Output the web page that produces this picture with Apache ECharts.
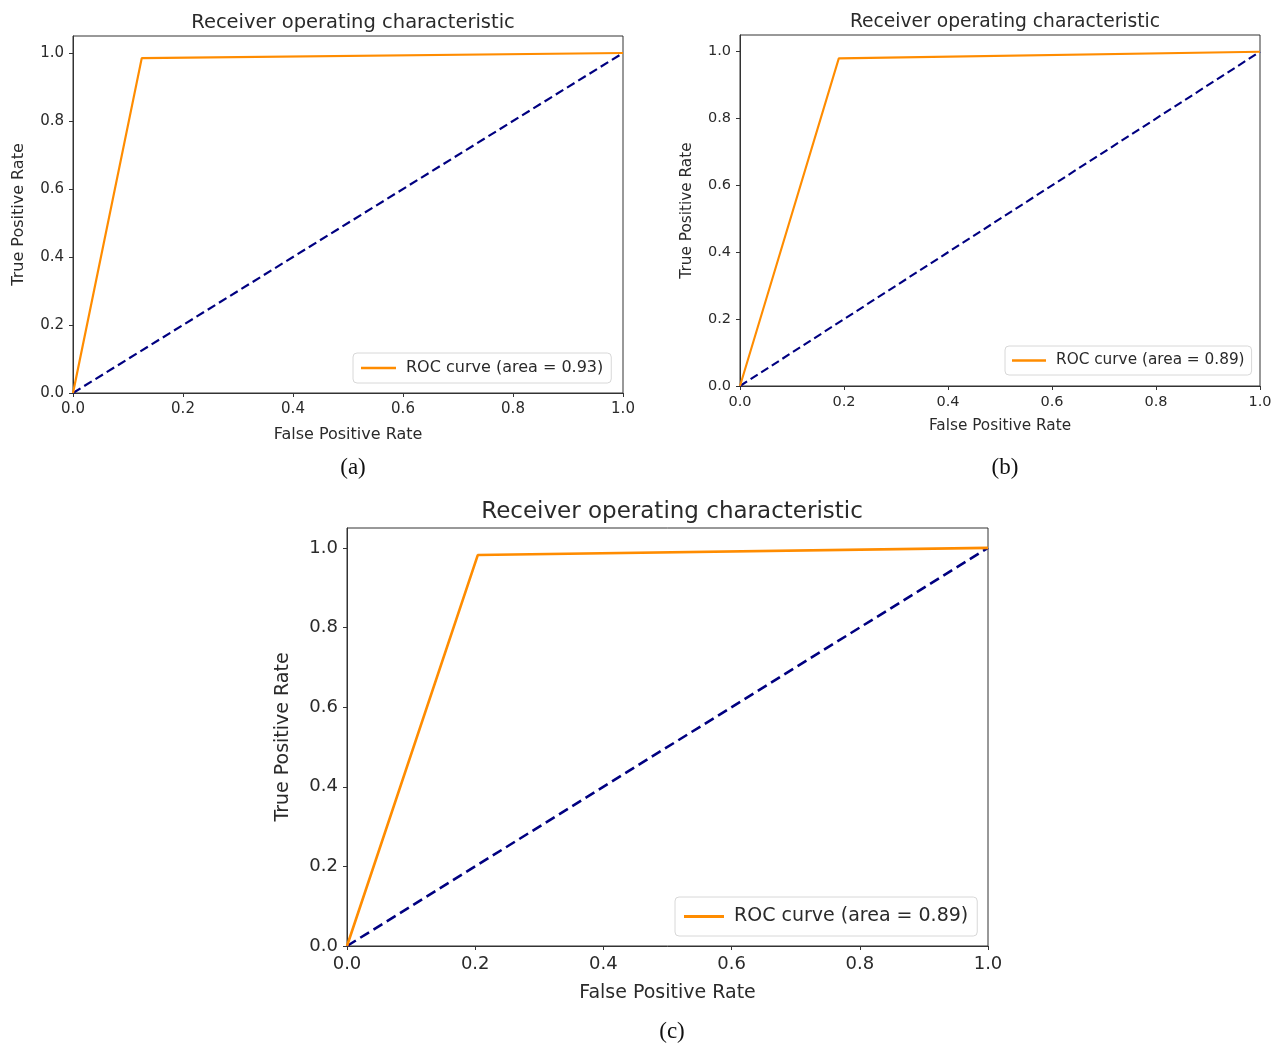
<!DOCTYPE html>
<html>
<head>
<meta charset="utf-8">
<script src="https://cdn.jsdelivr.net/npm/echarts@6/dist/echarts.min.js"></script>
<style>
html,body{margin:0;padding:0;background:#fff;}
#chart{width:1278px;height:1043px;}
</style>
</head>
<body>
<div id="chart"></div>
<script>
// ---- data ----
const fprA = [0, 0.125, 1];
const tprA = [0, 0.985, 1];
const fprB = [0, 0.19, 1];
const tprB = [0, 0.98, 1];
const fprC = [0, 0.204, 1];
const tprC = [0, 0.982, 1];
const chanceX = [0, 1];
const chanceY = [0, 1];
const nameA = 'ROC curve (area = 0.93)';
const nameB = 'ROC curve (area = 0.89)';
const nameC = 'ROC curve (area = 0.89)';
const tickValues = [0, 0.2, 0.4, 0.6, 0.8, 1.0];
const titleText = 'Receiver operating characteristic';
const xName = 'False Positive Rate';
const yName = 'True Positive Rate';
const captions = ['(a)', '(b)', '(c)'];

const zip = (xs, ys) => xs.map((x, i) => [x, ys[i]]);

const FONT = 'DejaVu Sans';
const TXT = '#2a2a2a';

const panels = [
  {grid: {left: 73, top: 36, width: 550, height: 357}, tk: 15, fs: 16, tfs: 19.5, titleY: 8, capY: 451, cap: captions[0], cx: 348,
   xGap: 34, yGap: 46, lw: 2.2, iw: 35, pad: [7, 8], legend: {left: 353, top: 353}, fx: fprA, ty: tprA, name: nameA},
  {grid: {left: 740, top: 35, width: 520, height: 351}, tk: 14.5, fs: 15.3, tfs: 18.7, titleY: 8, capY: 451, cap: captions[1], cx: 1000,
   xGap: 33, yGap: 45, lw: 2.1, iw: 34, pad: [7, 7], legend: {left: 1005, top: 346}, fx: fprB, ty: tprB, name: nameB},
  {grid: {left: 347, top: 528, width: 641, height: 418}, tk: 18, fs: 19, tfs: 23, titleY: 496, capY: 1015, cap: captions[2], cx: 667,
   xGap: 38, yGap: 54, lw: 2.6, iw: 40, pad: [10, 9], legend: {left: 675, top: 897}, fx: fprC, ty: tprC, name: nameC}
];

const option = {
  animation: false,
  backgroundColor: '#fff',
  title: [],
  grid: [],
  xAxis: [],
  yAxis: [],
  legend: [],
  series: []
};

panels.forEach((p, i) => {
  option.grid.push(Object.assign({show: true, borderColor: '#333', borderWidth: 1, backgroundColor: '#fff', containLabel: false}, p.grid));
  option.title.push({
    text: titleText, left: p.cx, top: p.titleY, textAlign: 'center',
    textStyle: {fontFamily: FONT, fontSize: p.tfs, fontWeight: 'normal', color: TXT}
  });
  option.title.push({
    text: p.cap, left: p.cx, top: p.capY, textAlign: 'center',
    textStyle: {fontFamily: 'Liberation Serif', fontSize: 23, fontWeight: 'normal', color: '#111'}
  });
  const axisCommon = {
    gridIndex: i, type: 'value', min: 0,
    nameLocation: 'middle',
    nameTextStyle: {fontFamily: FONT, fontSize: p.fs, color: TXT},
    axisLine: {show: true, onZero: false, lineStyle: {color: '#333', width: 1}},
    axisTick: {show: true, inside: false, length: 4, lineStyle: {color: '#333'}, customValues: tickValues},
    axisLabel: {fontFamily: FONT, fontSize: p.tk, color: TXT, margin: 9,
      formatter: v => v.toFixed(1), customValues: tickValues},
    splitLine: {show: false}
  };
  option.xAxis.push(Object.assign({}, axisCommon, {max: 1, interval: 0.2, name: xName, nameGap: p.xGap}));
  option.yAxis.push(Object.assign({}, axisCommon, {max: 1.05, interval: 0.2, name: yName, nameGap: p.yGap, nameRotate: 90}));
  option.legend.push({
    left: p.legend.left, top: p.legend.top, orient: 'vertical',
    data: [{name: p.name, icon: 'rect'}],
    itemWidth: p.iw, itemHeight: p.lw + 0.5,
    padding: p.pad,
    borderColor: '#d8d8d8', borderWidth: 1, borderRadius: 4,
    backgroundColor: 'rgba(255,255,255,0.8)',
    textStyle: {fontFamily: FONT, fontSize: p.fs, color: TXT, padding: [0, 0, 0, 5]}
  });
  option.series.push({
    type: 'line', name: p.name, xAxisIndex: i, yAxisIndex: i,
    data: zip(p.fx, p.ty), symbol: 'none', showSymbol: false,
    lineStyle: {color: '#FF8C00', width: p.lw}, itemStyle: {color: '#FF8C00'}, z: 3
  });
  option.series.push({
    type: 'line', name: 'chance', xAxisIndex: i, yAxisIndex: i,
    data: zip(chanceX, chanceY), symbol: 'none', showSymbol: false,
    lineStyle: {color: '#000080', width: p.lw, type: [4 * p.lw, 2 * p.lw]}, itemStyle: {color: '#000080'}, z: 2
  });
});

const chart = echarts.init(document.getElementById('chart'), null, {renderer: 'canvas'});
chart.setOption(option);
</script>
</body>
</html>
